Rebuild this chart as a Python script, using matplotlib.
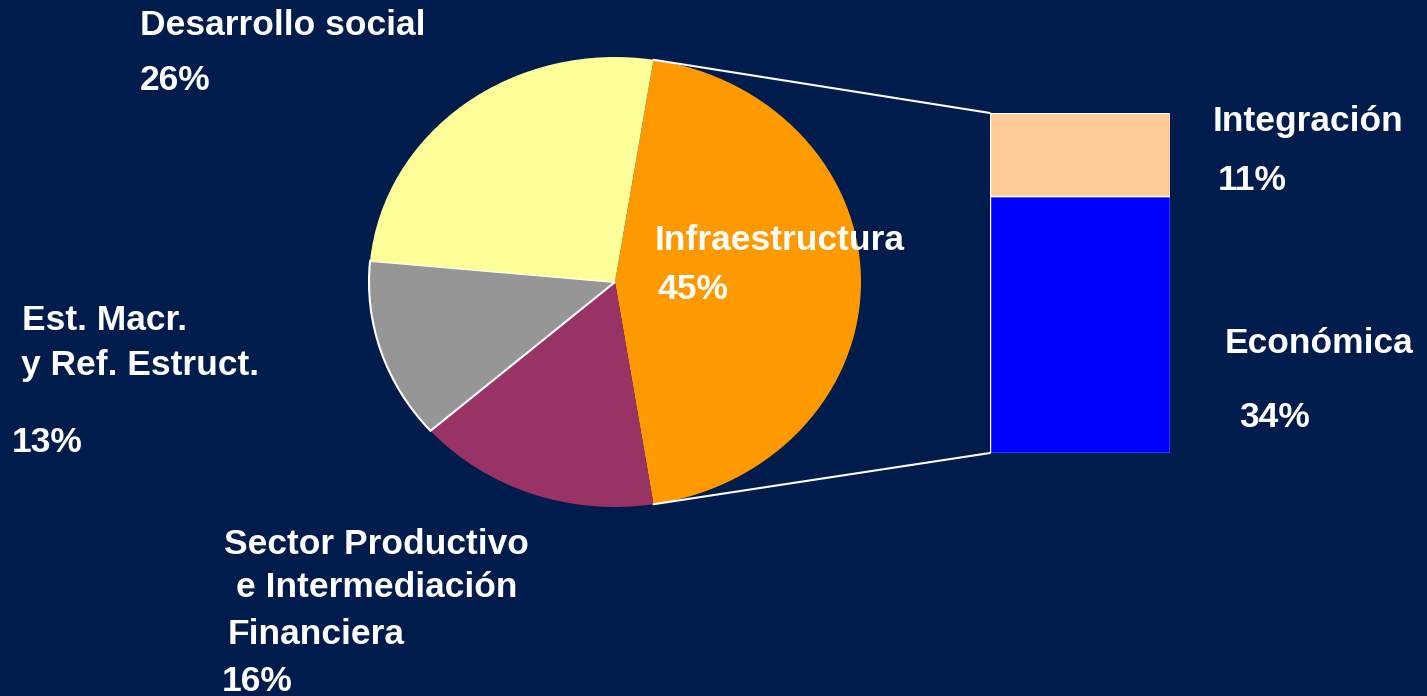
import matplotlib.pyplot as plt
from matplotlib.patches import ConnectionPatch
import numpy as np

plt.rcParams['font.family'] = ['Liberation Sans', 'DejaVu Sans']

# datos del grafico
pie_labels = ['Infraestructura', 'Sector Productivo e Intermediación Financiera',
              'Est. Macr. y Ref. Estruct.', 'Desarrollo social']
pie_values = [45, 16, 13, 26]
pie_colors = ['#FF9900', '#993366', '#969696', '#FFFF99']

bar_labels = ['Económica', 'Integración']
bar_values = [34, 11]
bar_colors = ['#0000FF', '#FFCC99']

bg = '#001C4C'
W, H = 1427, 696

fig = plt.figure(figsize=(W / 100, H / 100), dpi=100, facecolor=bg)


def px_box(x0, y0, x1, y1):
    # caja en pixeles (arriba-izquierda) -> coordenadas de figura
    return [x0 / W, 1 - y1 / H, (x1 - x0) / W, (y1 - y0) / H]


# torta
ax_pie = fig.add_axes(px_box(369, 57, 861, 507))
wedges, _ = ax_pie.pie(pie_values, colors=pie_colors, startangle=81,
                       counterclock=False, radius=1,
                       wedgeprops=dict(linewidth=0))
wedges[2].set_edgecolor('white')
wedges[2].set_linewidth(1.5)
ax_pie.set_aspect('auto')
ax_pie.set_xlim(-1, 1)
ax_pie.set_ylim(-1, 1)
ax_pie.axis('off')

# barra apilada
ax_bar = fig.add_axes(px_box(990, 113, 1170, 453))
bottom = 0
for v, c in zip(bar_values, bar_colors):
    ax_bar.bar(0, v, width=1, bottom=bottom, color=c, edgecolor='white', linewidth=1)
    bottom += v
ax_bar.set_xlim(-0.5, 0.5)
ax_bar.set_ylim(0, sum(bar_values))
ax_bar.axis('off')

# lineas de conexion
w0 = wedges[0]
for theta, yb in [(w0.theta2, sum(bar_values)), (w0.theta1, 0)]:
    xy_pie = (np.cos(np.radians(theta)), np.sin(np.radians(theta)))
    con = ConnectionPatch(xyA=xy_pie, coordsA=ax_pie.transData,
                          xyB=(-0.5, yb), coordsB=ax_bar.transData,
                          color='white', linewidth=1.5)
    fig.add_artist(con)

# textos
fs = 25.5
def txt(x, y, s):
    fig.text(x / W, 1 - y / H, s, color='white', fontsize=fs, fontweight='bold',
             ha='left', va='baseline')

txt(140, 35, 'Desarrollo social')
txt(140, 90, '26%')
txt(655, 250, 'Infraestructura')
txt(657, 299, '45%')
txt(22, 330, 'Est. Macr.')
txt(21, 375, 'y Ref. Estruct.')
txt(12, 452, '13%')
txt(224, 554, 'Sector Productivo')
txt(236, 597, 'e Intermediación')
txt(228, 644, 'Financiera')
txt(222, 691, '16%')
txt(1213, 131, 'Integración')
txt(1218, 190, '11%')
txt(1225, 353, 'Económica')
txt(1239, 427, '34%')

fig.savefig('out.png', dpi=100, facecolor=bg)
